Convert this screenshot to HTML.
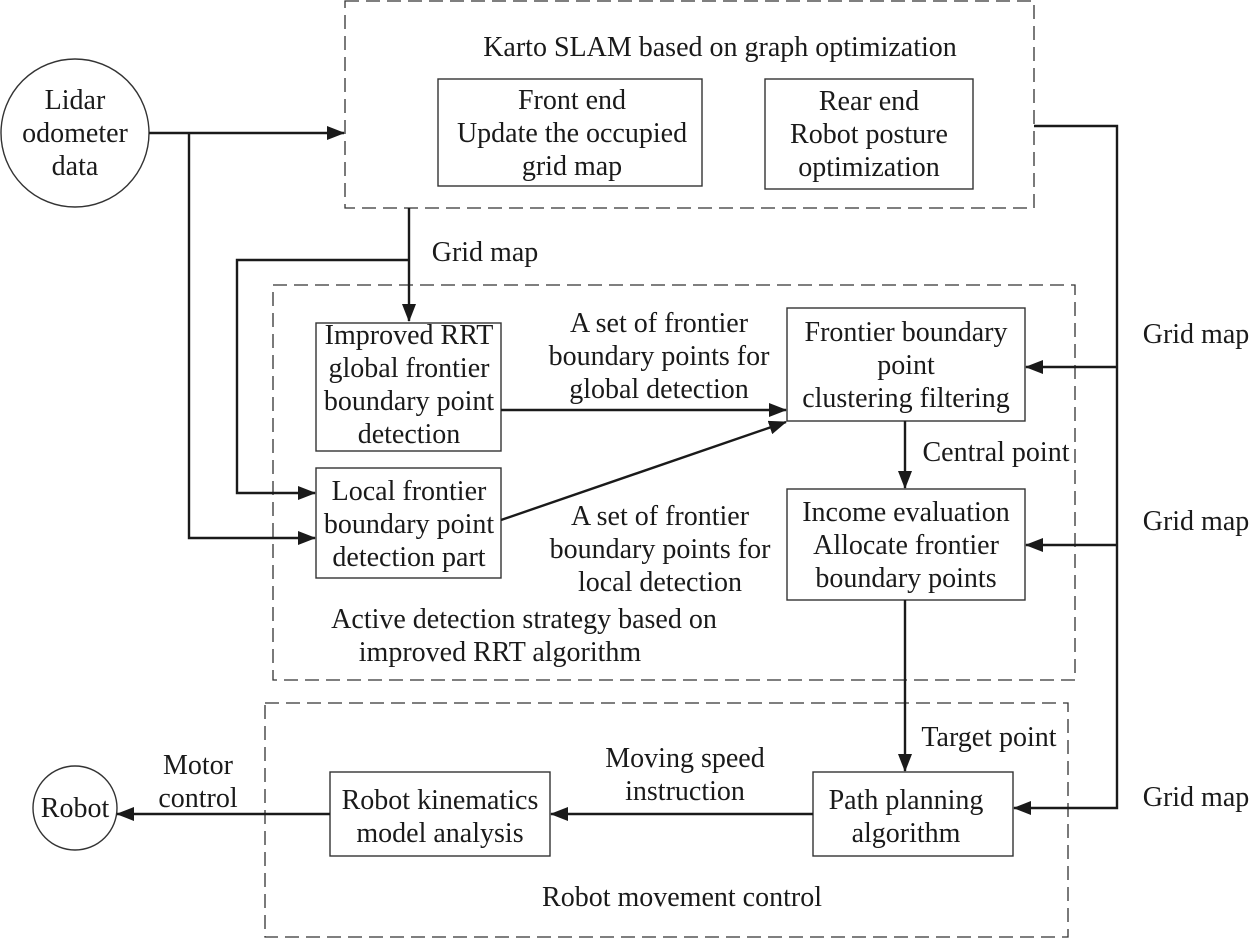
<!DOCTYPE html>
<html><head><meta charset="utf-8"><style>
body{margin:0;background:#fff}
svg text{font-family:"Liberation Serif",serif;font-size:28px;fill:#1a1a1a;text-anchor:middle}
</style></head><body>
<svg width="1250" height="939" viewBox="0 0 1250 939" xmlns="http://www.w3.org/2000/svg">
<defs><marker id="a" markerWidth="18" markerHeight="14" refX="17" refY="7" orient="auto" markerUnits="userSpaceOnUse"><path d="M0,0 L18,7 L0,14 z" fill="#1a1a1a"/></marker></defs>
<g fill="none" stroke="#333" stroke-width="1.3" stroke-dasharray="14,7">
<rect x="345" y="1" width="689" height="207"/>
<rect x="273" y="285" width="802" height="395"/>
<rect x="265" y="703" width="803" height="234"/>
</g>
<g fill="none" stroke="#333" stroke-width="1.4">
<circle cx="75" cy="133" r="74"/>
<circle cx="75" cy="808" r="42"/>
<rect x="438" y="79" width="264" height="107"/>
<rect x="765" y="79" width="208" height="110"/>
<rect x="316" y="323" width="185" height="128"/>
<rect x="316" y="468" width="185" height="110"/>
<rect x="787" y="308" width="238" height="113"/>
<rect x="787" y="489" width="238" height="111"/>
<rect x="813" y="772" width="200" height="84"/>
<rect x="330" y="772" width="220" height="84"/>
</g>
<g fill="none" stroke="#1a1a1a" stroke-width="2.4">
<path d="M149,133 H344" marker-end="url(#a)"/>
<path d="M189,133 V538 H315" marker-end="url(#a)"/>
<path d="M409,208 V321" marker-end="url(#a)"/>
<path d="M409,260 H237 V493 H315" marker-end="url(#a)"/>
<path d="M1034,126 H1117 V808 H1014" marker-end="url(#a)"/>
<path d="M1117,367 H1026" marker-end="url(#a)"/>
<path d="M1117,545 H1026" marker-end="url(#a)"/>
<path d="M501,410 H786" marker-end="url(#a)"/>
<path d="M501,520 L786,422" marker-end="url(#a)"/>
<path d="M905,421 V488" marker-end="url(#a)"/>
<path d="M905,600 V771" marker-end="url(#a)"/>
<path d="M813,814 H551" marker-end="url(#a)"/>
<path d="M330,814 H117" marker-end="url(#a)"/>
</g>
<text x="75" y="109">Lidar</text><text x="75" y="142">odometer</text><text x="75" y="175">data</text>
<text x="720" y="56">Karto SLAM based on graph optimization</text>
<text x="572" y="109">Front end</text><text x="572" y="142">Update the occupied</text><text x="572" y="175">grid map</text>
<text x="869" y="110">Rear end</text><text x="869" y="143">Robot posture</text><text x="869" y="176">optimization</text>
<text x="485" y="261">Grid map</text>
<text x="409" y="344">Improved RRT</text><text x="409" y="377">global frontier</text><text x="409" y="410">boundary point</text><text x="409" y="443">detection</text>
<text x="659" y="332">A set of frontier</text><text x="659" y="365">boundary points for</text><text x="659" y="398">global detection</text>
<text x="906" y="341">Frontier boundary</text><text x="906" y="374">point</text><text x="906" y="407">clustering filtering</text>
<text x="996" y="461">Central point</text>
<text x="409" y="500">Local frontier</text><text x="409" y="533">boundary point</text><text x="409" y="566">detection part</text>
<text x="660" y="525">A set of frontier</text><text x="660" y="558">boundary points for</text><text x="660" y="591">local detection</text>
<text x="906" y="521">Income evaluation</text><text x="906" y="554">Allocate frontier</text><text x="906" y="587">boundary points</text>
<text x="524" y="628">Active detection strategy based on</text><text x="500" y="661">improved RRT algorithm</text>
<text x="1196" y="343">Grid map</text><text x="1196" y="530">Grid map</text><text x="1196" y="806">Grid map</text>
<text x="989" y="746">Target point</text>
<text x="685" y="767">Moving speed</text><text x="685" y="800">instruction</text>
<text x="198" y="774">Motor</text><text x="198" y="807">control</text>
<text x="75" y="817">Robot</text>
<text x="440" y="809">Robot kinematics</text><text x="440" y="842">model analysis</text>
<text x="906" y="809">Path planning</text><text x="906" y="842">algorithm</text>
<text x="682" y="906">Robot movement control</text>
</svg>
</body></html>
